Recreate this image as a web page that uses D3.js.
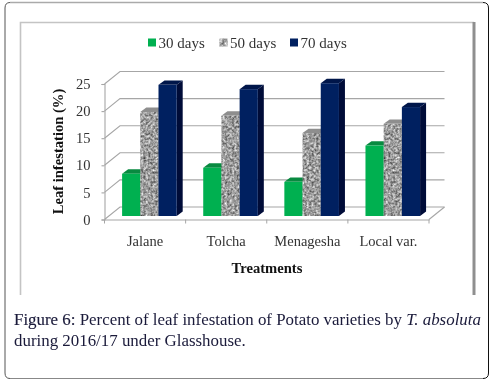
<!DOCTYPE html>
<html>
<head>
<meta charset="utf-8">
<script src="https://cdn.jsdelivr.net/npm/d3@7"></script>
<style>
html, body { margin: 0; padding: 0; background: #fff; }
svg { display: block; filter: blur(0.3px); }
text { font-family: "Liberation Serif", serif; }
</style>
</head>
<body>
<svg id="chart" width="493" height="383"></svg>
<script>
const categories = ['Jalane', 'Tolcha', 'Menagesha', 'Local var.'];
const seriesNames = ['30 days', '50 days', '70 days'];
const days30 = [7.8, 8.9, 6.3, 13];
const days50 = [19.2, 18.5, 15.3, 17];
const days70 = [24.2, 23.4, 24.5, 20.1];
const yTicks = [0, 5, 10, 15, 20, 25];
const captionBold = 'Figure 6:';
const captionLine1 = ' Percent of leaf infestation of Potato varieties by ';
const captionItalic = 'T. absoluta';
const captionLine2 = 'during 2016/17 under Glasshouse.';

const series = [days30, days50, days70];
const front = ['#00b050', 'url(#granite)', '#002060'];
const side = ['#00853c', '#6f6f6f', '#000c38'];
const top_ = ['#088a40', '#8e8e8e', '#00164a'];

const svg = d3.select('#chart');

// speckled fill of the middle series
const defs = svg.append('defs');
const filter = defs.append('filter').attr('id', 'speckle').attr('x', 0).attr('y', 0).attr('width', '100%').attr('height', '100%')
    .attr('color-interpolation-filters', 'sRGB');
filter.append('feTurbulence').attr('type', 'fractalNoise').attr('baseFrequency', 0.42).attr('numOctaves', 2).attr('seed', 4);
filter.append('feColorMatrix').attr('type', 'matrix')
    .attr('values', '0.95 0 0 0 0.14  0.95 0 0 0 0.14  0.95 0 0 0 0.14  0 0 0 0 1');
const pattern = defs.append('pattern').attr('id', 'granite').attr('patternUnits', 'userSpaceOnUse').attr('width', 60).attr('height', 160);
pattern.append('rect').attr('width', 60).attr('height', 160).attr('filter', 'url(#speckle)');

// page frames
svg.append('path').attr('d', 'M10,2.5H483').attr('stroke', '#aaa').attr('stroke-width', 1.5).attr('fill', 'none');
svg.append('path').attr('d', 'M10,2.5Q5,2.5 5,8V373Q5,378.5 10,378.5').attr('stroke', '#555').attr('stroke-width', 1).attr('fill', 'none');
svg.append('path').attr('d', 'M483,2.5Q488.5,2.5 488.5,8V373Q488.5,378.5 483,378.5').attr('stroke', '#111').attr('stroke-width', 1).attr('fill', 'none');
svg.append('path').attr('d', 'M10,378.5H483').attr('stroke', '#888').attr('stroke-width', 1).attr('fill', 'none');

// chart frame
svg.append('path').attr('d', 'M20.5,295V22.5H474').attr('fill', 'none').attr('stroke', '#c4c4c4').attr('stroke-width', 1.6);
svg.append('path').attr('d', 'M474,22V295').attr('fill', 'none').attr('stroke', '#8f8f8f').attr('stroke-width', 3);

const x = d3.scaleBand().domain(categories).range([104.5, 429]);
const y = d3.scaleLinear().domain([0, 25]).range([219.5, 84]);
const wallDx = 15.5, wallDy = -12.5;
const barDx = 6, barDy = -4.4, barLift = -3.5;
const barPad = 17.6, barW = 18.2;

// back wall, floor and gridlines
const walls = svg.append('g').attr('stroke', '#a6a6a6').attr('stroke-width', 1.1).attr('fill', 'none');
walls.selectAll('path.grid').data(yTicks).join('path').attr('class', 'grid')
    .attr('d', d => `M${x.range()[0]},${y(d)}l${wallDx},${wallDy}H${x.range()[1] + wallDx}`);
walls.append('path').attr('d', `M${x.range()[1]},${y(0)}l${wallDx},${wallDy}`);

// bars
categories.forEach((c, i) => {
    const g = svg.append('g');
    series.forEach((vals, s) => {
        const x0 = x(c) + barPad + s * barW;
        const x1 = x0 + barW;
        const yT = y(vals[i]) + barLift;
        const yB = y(0) + barLift;
        g.append('path').attr('fill', side[s])
            .attr('d', `M${x1},${yT}l${barDx},${barDy}V${yB + barDy}L${x1},${yB}Z`);
        g.append('path').attr('fill', top_[s])
            .attr('d', `M${x0},${yT}l${barDx},${barDy}H${x1 + barDx}L${x1},${yT}Z`);
        g.append('rect').attr('fill', front[s])
            .attr('x', x0).attr('y', yT).attr('width', barW).attr('height', yB - yT);
    });
});

// axes
const axisL = svg.append('g').attr('transform', 'translate(104.5,0)')
    .call(d3.axisLeft(y).tickValues(yTicks).tickSize(3).tickPadding(11));
const axisB = svg.append('g').attr('transform', `translate(0,${y(0)})`)
    .call(d3.axisBottom(x).tickSize(0).tickPadding(16));
axisL.selectAll('path,line').attr('stroke', '#a6a6a6').attr('stroke-width', 1.1);
axisB.selectAll('path').attr('stroke', '#a6a6a6').attr('stroke-width', 1.1);
axisL.selectAll('text').attr('font-size', 14.5).attr('font-family', '"Liberation Serif", serif').attr('fill', '#333');
axisB.selectAll('text').attr('font-size', 14.5).attr('font-family', '"Liberation Serif", serif').attr('fill', '#333');
svg.append('g').selectAll('line').data(d3.range(5)).join('line')
    .attr('x1', d => x.range()[0] + d * x.step()).attr('x2', d => x.range()[0] + d * x.step())
    .attr('y1', y(0)).attr('y2', y(0) + 4).attr('stroke', '#a6a6a6');

// axis titles
svg.append('text').attr('transform', 'translate(63,151.5) rotate(-90)').attr('text-anchor', 'middle')
    .attr('font-size', 14.6).attr('font-weight', 'bold').attr('fill', '#111').text('Leaf infestation (%)');
svg.append('text').attr('x', 267).attr('y', 273).attr('text-anchor', 'middle')
    .attr('font-size', 14.6).attr('font-weight', 'bold').attr('fill', '#111').text('Treatments');

// legend
const legendX = [148, 219.5, 290];
const legendFill = ['#00b050', 'url(#granite)', '#002060'];
seriesNames.forEach((n, i) => {
    svg.append('rect').attr('x', legendX[i]).attr('y', 38.5).attr('width', 8).attr('height', 8).attr('fill', legendFill[i]);
    svg.append('text').attr('x', legendX[i] + 10.5).attr('y', 47.5).attr('font-size', 15).attr('fill', '#333').text(n);
});

// caption
const capColor = '#1a1a3a';
const cap = svg.append('text').attr('x', 14).attr('y', 325).attr('font-size', 16.9).attr('fill', capColor).style('white-space', 'pre');
cap.append('tspan').attr('stroke', capColor).attr('stroke-width', 0.15).text(captionBold);
cap.append('tspan').text(captionLine1);
cap.append('tspan').attr('font-style', 'italic').text(captionItalic);
svg.append('text').attr('x', 14).attr('y', 345.5).attr('font-size', 16.9).attr('fill', capColor).text(captionLine2);
</script>
</body>
</html>
